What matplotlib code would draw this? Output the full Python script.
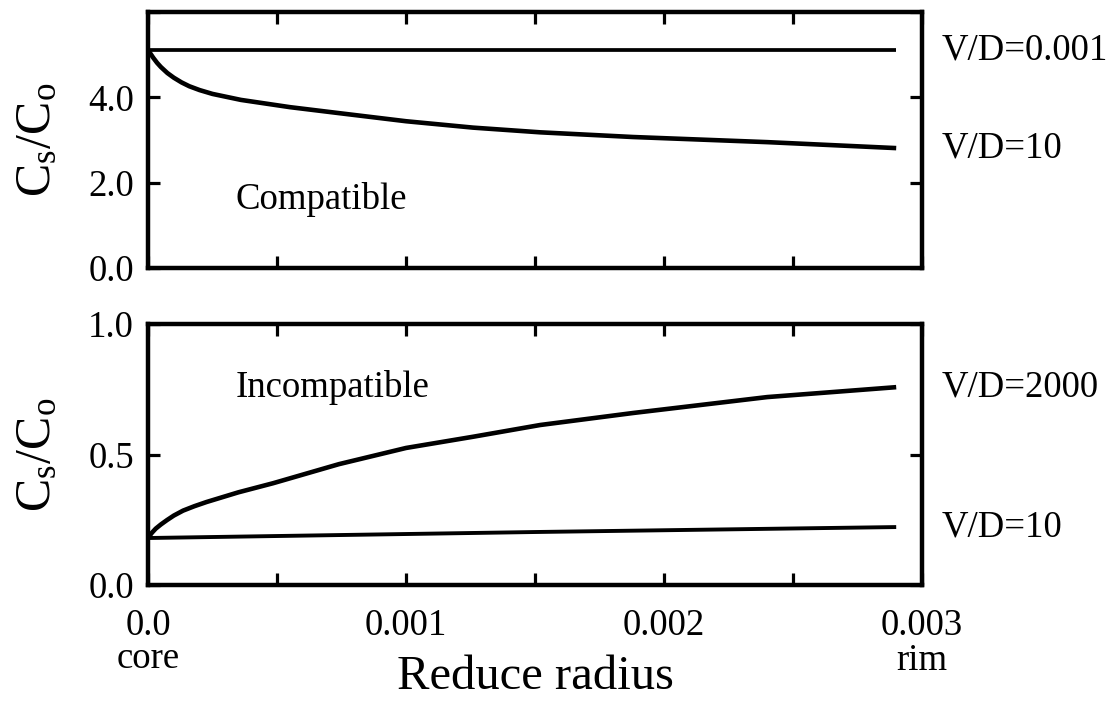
import matplotlib
matplotlib.use("Agg")
import matplotlib.pyplot as plt
from matplotlib.ticker import FixedLocator, FixedFormatter
import matplotlib.transforms as mtransforms

plt.rcParams['font.family'] = ['Liberation Serif', 'DejaVu Serif']
plt.rcParams['mathtext.fontset'] = 'custom'
plt.rcParams['mathtext.rm'] = 'Liberation Serif'
plt.rcParams['mathtext.it'] = 'Liberation Serif:italic'

# Compatible element profiles
x_compat_slow = [0.0, 0.0029]
y_compat_slow = [5.1, 5.1]          # V/D = 0.001
x_compat_fast = [0.0, 0.00001, 0.00002, 0.000035, 0.00005, 0.000075, 0.0001, 0.00013,
                 0.00016, 0.0002, 0.00025, 0.00036, 0.00055, 0.00074, 0.001, 0.00126,
                 0.00152, 0.00188, 0.0024, 0.0029]
y_compat_fast = [5.1, 5.02, 4.93, 4.81, 4.71, 4.57, 4.46, 4.35,
                 4.26, 4.17, 4.08, 3.94, 3.77, 3.63, 3.44, 3.29,
                 3.18, 3.07, 2.95, 2.81]   # V/D = 10

# Incompatible element profiles
x_incomp_fast = [0.0, 0.000015, 0.00003, 0.00005, 0.000074, 0.0001, 0.000136, 0.00018,
                 0.000227, 0.00035, 0.000485, 0.00074, 0.001, 0.00126, 0.00152,
                 0.00188, 0.0024, 0.0029]
y_incomp_fast = [0.18, 0.20, 0.216, 0.232, 0.249, 0.266, 0.285, 0.302,
                 0.318, 0.355, 0.39, 0.463, 0.525, 0.568, 0.613,
                 0.659, 0.72, 0.758]  # V/D = 2000
x_incomp_slow = [0.0, 0.0015, 0.0029]
y_incomp_slow = [0.18, 0.203, 0.222]  # V/D = 10

x_tick_vals = [i * 0.0005 for i in range(7)]
x_tick_text = ['0.0', '', '0.001', '', '0.002', '', '0.003']
top_y_ticks = [0.0, 2.0, 4.0, 6.0]
top_y_text = ['0.0', '2.0', '4.0', '']
bot_y_ticks = [0.0, 0.5, 1.0]
bot_y_text = ['0.0', '0.5', '1.0']

W, H = 1114, 703
fig = plt.figure(figsize=(W / 100, H / 100), dpi=100)

def frac_rect(left, top, right, bottom):
    return [left / W, 1 - bottom / H, (right - left) / W, (bottom - top) / H]

ax1 = fig.add_axes(frac_rect(148, 12, 922, 268))
ax2 = fig.add_axes(frac_rect(148, 324, 922, 585))

FS = 26.5
LW = 3.3

for ax in (ax1, ax2):
    ax.set_xlim(0, 0.003)
    for s in ax.spines.values():
        s.set_linewidth(3.2)
    ax.xaxis.set_major_locator(FixedLocator(x_tick_vals))
    ax.tick_params(direction='in', length=8.5, width=2.3, top=True, right=True,
                   labelsize=FS)
    ax.tick_params(axis='x', pad=17)
    ax.tick_params(axis='y', pad=10)

ax1.plot(x_compat_slow, y_compat_slow, color='black', lw=2.7, solid_capstyle='butt')
ax1.plot(x_compat_fast, y_compat_fast, color='black', lw=LW, solid_capstyle='butt',
         solid_joinstyle='round')
ax1.set_ylim(0, 6)
ax1.yaxis.set_major_locator(FixedLocator(top_y_ticks))
ax1.yaxis.set_major_formatter(FixedFormatter(top_y_text))
ax1.tick_params(axis='x', labelbottom=False)
ax1.text(0.00034, 1.6, 'Compatible', fontsize=FS, va='center', ha='left')

ax2.plot(x_incomp_fast, y_incomp_fast, color='black', lw=LW, solid_capstyle='butt',
         solid_joinstyle='round')
ax2.plot(x_incomp_slow, y_incomp_slow, color='black', lw=2.8, solid_capstyle='butt')
ax2.set_ylim(0, 1)
ax2.yaxis.set_major_locator(FixedLocator(bot_y_ticks))
ax2.yaxis.set_major_formatter(FixedFormatter(bot_y_text))
ax2.xaxis.set_major_formatter(FixedFormatter(x_tick_text))
ax2.text(0.00034, 0.755, 'Incompatible', fontsize=FS, va='center', ha='left')

# curve labels to the right of the frames
for ax, ys, labels in ((ax1, [y_compat_slow[-1], y_compat_fast[-1]], ['V/D=0.001', 'V/D=10']),
                       (ax2, [y_incomp_fast[-1], y_incomp_slow[-1]], ['V/D=2000', 'V/D=10'])):
    tr = mtransforms.blended_transform_factory(ax.transAxes, ax.transData)
    for yv, lab in zip(ys, labels):
        ax.text(1.026, yv, lab, transform=tr, fontsize=FS, va='center', ha='left',
                clip_on=False)

for ax in (ax1, ax2):
    ax.set_ylabel(r'$\mathrm{C_s/C_o}$', fontsize=36, va='center')
    ax.yaxis.set_label_coords(-0.142, 0.5)

# core / rim under the end ticks
trx = mtransforms.blended_transform_factory(ax2.transData, fig.transFigure)
ax2.text(0.0, 1 - 668 / H, 'core', transform=trx, fontsize=FS, ha='center', va='baseline')
ax2.text(0.003, 1 - 670 / H, 'rim', transform=trx, fontsize=FS, ha='center', va='baseline')

fig.text(535 / W, 1 - 677 / H, 'Reduce radius', fontsize=35, ha='center', va='center')

fig.savefig('out.png', dpi=100, facecolor='white')
